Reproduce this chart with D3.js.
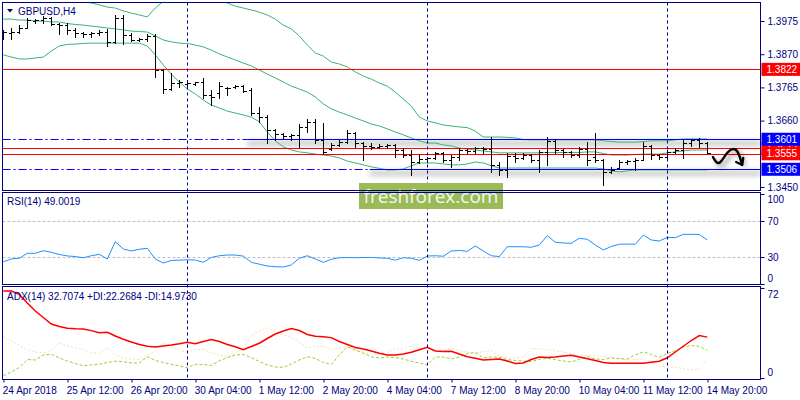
<!DOCTYPE html>
<html>
<head>
<meta charset="utf-8">
<script src="https://cdn.jsdelivr.net/npm/d3@7"></script>
<style>
  body { margin: 0; background: #fff; }
  svg { display: block; font-family: "Liberation Sans", Arial, sans-serif; }
</style>
</head>
<body>
<div id="chart"></div>
<script>
// GBPUSD H4 bars, 24 Apr 2018 04:00 .. 14 May 2018 20:00
const xLabels = ["24 Apr 2018", "25 Apr 12:00", "26 Apr 20:00", "30 Apr 04:00", "1 May 12:00", "2 May 20:00",
  "4 May 04:00", "7 May 12:00", "8 May 20:00", "10 May 04:00", "11 May 12:00", "14 May 20:00"];
const xLabelBars = [0, 8, 16, 24, 32, 40, 48, 56, 64, 72, 80, 88];
const separatorBars = [23, 53, 83];

const open = [1.3937,1.3937,1.3940,1.3953,1.3975,1.3978,1.3984,1.3966,1.3962,1.3947,
  1.3937,1.3934,1.3937,1.3940,1.3909,1.3984,1.3931,1.3915,1.3918,1.3928,
  1.3820,1.3760,1.3779,1.3776,1.3776,1.3782,1.3741,1.3747,1.3763,1.3766,
  1.3769,1.3757,1.3684,1.3671,1.3630,1.3618,1.3611,1.3615,1.3640,1.3656,
  1.3599,1.3570,1.3583,1.3592,1.3621,1.3589,1.3580,1.3577,1.3580,1.3583,
  1.3567,1.3551,1.3529,1.3539,1.3542,1.3558,1.3536,1.3545,1.3567,1.3564,
  1.3573,1.3570,1.3520,1.3504,1.3548,1.3542,1.3551,1.3536,1.3561,1.3596,
  1.3567,1.3561,1.3551,1.3570,1.3545,1.3536,1.3498,1.3510,1.3529,1.3533,
  1.3536,1.3580,1.3551,1.3545,1.3561,1.3567,1.3589,1.3599,1.3589];
const high = [1.3947,1.3953,1.3962,1.3984,1.3981,1.3991,1.3988,1.3969,1.3969,1.3953,
  1.3940,1.3940,1.3947,1.3950,1.3994,1.3994,1.3937,1.3921,1.3934,1.3934,
  1.3823,1.3811,1.3788,1.3788,1.3782,1.3795,1.3757,1.3782,1.3766,1.3773,
  1.3773,1.3763,1.3703,1.3678,1.3634,1.3621,1.3618,1.3649,1.3665,1.3665,
  1.3653,1.3589,1.3599,1.3630,1.3624,1.3592,1.3589,1.3586,1.3586,1.3586,
  1.3573,1.3567,1.3551,1.3545,1.3561,1.3561,1.3551,1.3573,1.3570,1.3577,
  1.3577,1.3608,1.3529,1.3558,1.3558,1.3558,1.3554,1.3567,1.3608,1.3602,
  1.3570,1.3564,1.3577,1.3592,1.3621,1.3539,1.3514,1.3536,1.3536,1.3542,
  1.3592,1.3583,1.3554,1.3567,1.3573,1.3599,1.3602,1.3605,1.3592];
const low = [1.3918,1.3918,1.3937,1.3953,1.3969,1.3969,1.3962,1.3934,1.3934,1.3924,
  1.3924,1.3924,1.3931,1.3896,1.3905,1.3902,1.3912,1.3912,1.3912,1.3798,
  1.3747,1.3757,1.3766,1.3766,1.3773,1.3732,1.3709,1.3732,1.3741,1.3763,
  1.3750,1.3678,1.3656,1.3589,1.3599,1.3602,1.3599,1.3577,1.3624,1.3589,
  1.3554,1.3567,1.3580,1.3589,1.3577,1.3536,1.3570,1.3573,1.3573,1.3545,
  1.3545,1.3488,1.3526,1.3529,1.3539,1.3529,1.3514,1.3536,1.3558,1.3558,
  1.3558,1.3498,1.3488,1.3482,1.3529,1.3539,1.3529,1.3498,1.3520,1.3558,
  1.3545,1.3545,1.3545,1.3520,1.3529,1.3456,1.3495,1.3510,1.3523,1.3504,
  1.3536,1.3539,1.3539,1.3542,1.3558,1.3542,1.3580,1.3577,1.3558];
const close = [1.3940,1.3940,1.3953,1.3978,1.3978,1.3984,1.3966,1.3962,1.3947,1.3937,
  1.3934,1.3937,1.3940,1.3909,1.3984,1.3931,1.3915,1.3918,1.3928,1.3820,
  1.3760,1.3779,1.3782,1.3779,1.3782,1.3741,1.3735,1.3769,1.3763,1.3769,
  1.3754,1.3684,1.3671,1.3630,1.3618,1.3611,1.3615,1.3640,1.3656,1.3599,
  1.3561,1.3583,1.3592,1.3621,1.3589,1.3580,1.3577,1.3580,1.3583,1.3567,
  1.3551,1.3529,1.3539,1.3542,1.3558,1.3536,1.3545,1.3567,1.3564,1.3573,
  1.3570,1.3520,1.3504,1.3548,1.3542,1.3551,1.3536,1.3561,1.3596,1.3567,
  1.3561,1.3551,1.3570,1.3536,1.3536,1.3498,1.3504,1.3529,1.3533,1.3536,
  1.3580,1.3551,1.3545,1.3561,1.3567,1.3589,1.3599,1.3589,1.3558];

// Bollinger bands
const bbUpper = [1.4083,1.4086,1.4089,1.4092,1.4092,1.4089,1.4073,1.4060,1.4051,1.4041,
  1.4035,1.4032,1.4026,1.4019,1.4016,1.4007,1.4000,1.3994,1.3988,1.4016,
  1.4038,1.4051,1.4057,1.4057,1.4051,1.4045,1.4041,1.4038,1.4032,1.4022,
  1.4016,1.4010,1.4003,1.3994,1.3981,1.3962,1.3950,1.3928,1.3899,1.3874,
  1.3864,1.3845,1.3839,1.3830,1.3814,1.3801,1.3791,1.3779,1.3769,1.3750,
  1.3728,1.3706,1.3671,1.3659,1.3653,1.3646,1.3643,1.3640,1.3638,1.3627,
  1.3608,1.3608,1.3608,1.3607,1.3605,1.3600,1.3599,1.3599,1.3599,1.3599,
  1.3599,1.3599,1.3599,1.3599,1.3599,1.3596,1.3594,1.3592,1.3592,1.3592,
  1.3594,1.3596,1.3596,1.3596,1.3599,1.3602,1.3602,1.3602,1.3602];
const bbMiddle = [1.3981,1.3981,1.3978,1.3978,1.3975,1.3975,1.3972,1.3972,1.3967,1.3964,
  1.3962,1.3959,1.3956,1.3953,1.3950,1.3947,1.3943,1.3942,1.3940,1.3928,
  1.3915,1.3909,1.3905,1.3904,1.3899,1.3893,1.3883,1.3871,1.3861,1.3852,
  1.3842,1.3833,1.3820,1.3807,1.3795,1.3782,1.3769,1.3760,1.3750,1.3735,
  1.3713,1.3697,1.3687,1.3678,1.3668,1.3659,1.3649,1.3643,1.3634,1.3624,
  1.3615,1.3605,1.3596,1.3589,1.3589,1.3583,1.3580,1.3573,1.3570,1.3567,
  1.3564,1.3561,1.3558,1.3558,1.3558,1.3558,1.3558,1.3558,1.3559,1.3559,
  1.3559,1.3559,1.3559,1.3561,1.3561,1.3556,1.3551,1.3551,1.3551,1.3553,
  1.3554,1.3554,1.3554,1.3558,1.3561,1.3564,1.3567,1.3567,1.3567];
const bbLower = [1.3868,1.3861,1.3855,1.3855,1.3858,1.3861,1.3880,1.3896,1.3901,1.3902,
  1.3904,1.3905,1.3905,1.3905,1.3905,1.3905,1.3905,1.3905,1.3896,1.3868,
  1.3836,1.3807,1.3782,1.3760,1.3744,1.3725,1.3709,1.3700,1.3690,1.3684,
  1.3678,1.3671,1.3656,1.3624,1.3596,1.3577,1.3567,1.3561,1.3558,1.3554,
  1.3551,1.3548,1.3542,1.3532,1.3526,1.3520,1.3514,1.3509,1.3504,1.3504,
  1.3507,1.3517,1.3526,1.3526,1.3526,1.3523,1.3520,1.3520,1.3523,1.3529,
  1.3526,1.3517,1.3510,1.3510,1.3510,1.3510,1.3510,1.3510,1.3510,1.3510,
  1.3510,1.3510,1.3510,1.3510,1.3510,1.3507,1.3501,1.3498,1.3501,1.3504,
  1.3504,1.3504,1.3504,1.3504,1.3504,1.3504,1.3504,1.3504,1.3504];

const rsi = [24.8,27.8,28.6,34.1,34.1,37.0,35.2,32.8,31.2,30.5,
  29.2,31.4,33.0,27.8,47.0,38.9,36.7,38.6,39.7,27.8,
  23.3,26.2,26.5,26.9,26.7,24.1,29.5,31.4,32.2,32.2,
  31.0,24.1,22.0,20.0,19.2,18.9,21.1,28.6,31.4,27.8,
  24.1,27.5,29.2,29.4,29.2,29.4,29.5,28.9,28.6,26.5,
  29.2,28.6,26.3,31.1,31.4,30.8,36.7,37.3,36.3,42.2,
  36.7,31.4,30.5,41.4,41.4,41.4,40.8,43.3,53.7,46.3,
  45.6,45.2,50.8,49.7,43.3,37.8,41.7,44.2,44.4,44.1,
  54.4,48.9,47.8,51.9,51.5,55.2,55.2,55.0,49.0];

const adx = [69.6,69.6,66.8,60.0,53.6,48.4,43.2,41.2,39.8,39.4,
  39.2,37.9,36.3,36.6,33.6,31.0,28.8,26.8,25.4,24.9,
  25.6,26.4,27.4,28.6,27.4,29.2,30.8,29.2,26.8,25.0,
  22.6,25.2,27.8,31.6,35.2,37.6,39.6,38.0,34.8,33.4,
  33.0,32.3,29.2,26.8,24.4,23.2,21.6,19.8,18.4,18.4,
  19.2,20.6,22.6,24.6,21.6,21.2,21.4,19.2,17.0,15.8,
  14.4,14.8,15.2,13.6,11.6,12.0,14.8,16.8,16.4,16.8,
  17.6,18.2,16.8,15.4,14.0,12.4,11.8,11.8,11.8,11.8,
  11.8,12.6,13.4,16.2,20.8,25.4,30.0,34.0,32.7];
const plusDI = [1.8,4.8,8.4,14.8,14.4,18.4,19.0,16.0,13.6,11.6,
  9.8,10.4,11.0,12.4,13.4,13.0,12.0,12.0,17.0,14.0,
  12.4,11.0,9.6,8.2,10.9,10.8,10.0,13.8,16.2,18.4,
  18.8,16.4,13.2,10.4,8.8,8.6,11.2,14.4,17.0,15.6,
  12.4,10.8,18.4,25.0,22.4,19.8,17.0,16.0,16.8,16.4,
  15.2,13.4,12.0,10.4,16.8,16.8,15.2,16.8,19.6,20.4,
  16.2,16.8,16.6,14.8,14.0,13.6,13.1,14.9,15.8,14.7,
  13.6,12.8,14.9,17.0,15.2,14.8,16.0,15.6,15.2,18.4,
  21.0,18.8,16.5,19.6,21.8,24.8,26.0,25.4,22.3];
const minusDI = [33.0,29.8,26.4,22.4,20.8,20.0,22.0,28.4,25.6,24.4,
  22.8,20.4,19.6,24.2,19.2,16.0,15.2,14.8,17.6,22.0,
  27.8,24.8,22.0,21.0,22.8,22.8,20.4,18.4,17.2,20.0,
  24.0,33.6,37.6,40.2,37.6,34.8,32.4,28.8,23.8,25.6,
  25.6,22.4,24.4,25.2,22.4,20.8,19.2,19.6,20.8,23.2,
  23.2,25.6,24.4,22.4,21.6,22.0,23.6,22.0,20.6,20.0,
  21.0,22.0,17.2,16.4,15.6,17.2,23.6,23.6,22.4,21.8,
  20.8,19.2,18.0,17.8,17.8,17.2,16.4,15.2,14.4,14.8,
  15.2,12.4,9.2,8.8,8.4,7.4,6.4,7.2,15.0];

const priceTicks = [1.3975, 1.3870, 1.3765, 1.3660, 1.3555, 1.3450];
const rsiTicks = [0, 30, 70, 100];
const rsiLevels = [30, 70];
const adxTicks = [0, 72];

// horizontal levels drawn on the chart (solidFrom = bar where the line turns solid)
const levels = [
  { price: 1.3822, color: "#ff0000", solidFrom: 0 },
  { price: 1.3572, color: "#ff0000", solidFrom: 0 },
  { price: 1.3555, color: "#ff0000", solidFrom: 0 },
  { price: 1.3601, color: "#0000ff", solidFrom: 30.5 },
  { price: 1.3506, color: "#0000ff", solidFrom: 45.8 }
];
// hand-drawn forecast arrow (bar position, price)
const arrowPts = [[88.7, 1.3545], [89.3, 1.3520], [89.8, 1.3532], [90.5, 1.3561],
  [91.2, 1.3573], [91.8, 1.3567], [92.3, 1.3526]];

const width = 800, height = 400;
const left = 2.5, right = 760.5;
const main = { top: 2.5, bottom: 190.5 };
const rsiP = { top: 192.5, bottom: 284.5 };
const adxP = { top: 286.5, bottom: 379.5 };
const navy = "#000080";

const svg = d3.select("#chart").append("svg")
  .attr("width", width).attr("height", height);

const defs = svg.append("defs");
defs.append("filter").attr("id", "blur").attr("x", "-20%").attr("y", "-200%")
  .attr("width", "140%").attr("height", "500%")
  .append("feGaussianBlur").attr("stdDeviation", 2.5);
[["clipMain", main], ["clipRsi", rsiP], ["clipAdx", adxP]].forEach(([id, p]) => {
  defs.append("clipPath").attr("id", id).append("rect")
    .attr("x", left).attr("y", p.top).attr("width", right - left).attr("height", p.bottom - p.top);
});

const x = d3.scaleLinear().domain([0, 88]).range([3.3, 707.3]);
const y = d3.scaleLinear().domain([1.3450, 1.3975]).range([187, 21]);
const yRsi = d3.scaleLinear().domain([30, 70]).range([257, 221]);
const yAdx = d3.scaleLinear().domain([0, 72]).range([378, 288]);
const cx = i => Math.round(x(i)) + 0.5;
const cy = v => Math.round(y(v)) + 0.5;

// ---------- main panel ----------
const gMain = svg.append("g").attr("clip-path", "url(#clipMain)");

// shadows under the drawn levels
levels.filter(d => d.solidFrom > 0).forEach(d => {
  gMain.append("rect")
    .attr("x", x(d.solidFrom)).attr("y", y(d.price) + 1)
    .attr("width", right - x(d.solidFrom)).attr("height", 6)
    .attr("fill", "#000").attr("opacity", 0.18).attr("filter", "url(#blur)");
});

// Bollinger bands
[bbUpper, bbMiddle, bbLower].forEach(s => {
  gMain.append("path").datum(s)
    .attr("fill", "none").attr("stroke", "#3cb371").attr("stroke-width", 1)
    .attr("d", d3.line().x((d, i) => x(i)).y(d => y(d)));
});

// level lines
levels.forEach(d => {
  const yy = cy(d.price);
  if (d.solidFrom > 0) {
    gMain.append("line").attr("x1", left).attr("x2", x(d.solidFrom))
      .attr("y1", yy).attr("y2", yy).attr("stroke", d.color)
      .attr("stroke-dasharray", "8,3,2,3");
  }
  gMain.append("line").attr("x1", d.solidFrom > 0 ? x(d.solidFrom) : left).attr("x2", right)
    .attr("y1", yy).attr("y2", yy).attr("stroke", d.color).attr("stroke-width", 1.2);
});

// OHLC bars
const bars = open.map((o, i) => ({ i, o, h: high[i], l: low[i], c: close[i] }));
gMain.append("g").selectAll("path").data(bars).join("path")
  .attr("fill", "none").attr("stroke", "#000").attr("stroke-width", 1)
  .attr("shape-rendering", "crispEdges")
  .attr("d", d => {
    const px = cx(d.i);
    return `M${px},${cy(d.h) - 0.5}V${cy(d.l) + 0.5}` +
      `M${px - 3},${cy(d.o)}H${px}M${px},${cy(d.c)}H${px + 3.5}`;
  });

// forecast arrow with shadow
const arrowLine = d3.line().x(d => x(d[0])).y(d => y(d[1])).curve(d3.curveBasis);
svg.append("path").datum(arrowPts).attr("d", arrowLine)
  .attr("transform", "translate(3,3)")
  .attr("fill", "none").attr("stroke", "#000").attr("stroke-width", 4)
  .attr("opacity", 0.3).attr("filter", "url(#blur)");
svg.append("path").datum(arrowPts).attr("d", arrowLine)
  .attr("fill", "none").attr("stroke", "#000").attr("stroke-width", 2.4)
  .attr("stroke-linecap", "round");
const tip = arrowPts[arrowPts.length - 1];
const tx = x(tip[0]) + 0.5, ty = y(tip[1]) + 2;
svg.append("path")
  .attr("d", `M${tx - 6},${ty - 3}L${tx},${ty}L${tx + 1},${ty - 7}`)
  .attr("fill", "none").attr("stroke", "#000").attr("stroke-width", 2.4)
  .attr("stroke-linecap", "round").attr("stroke-linejoin", "round");

// ---------- RSI panel ----------
const gRsi = svg.append("g").attr("clip-path", "url(#clipRsi)");
gRsi.selectAll("line.lvl").data(rsiLevels).join("line")
  .attr("x1", left).attr("x2", right)
  .attr("y1", d => Math.round(yRsi(d)) + 0.5).attr("y2", d => Math.round(yRsi(d)) + 0.5)
  .attr("stroke", "#c0c0c0").attr("stroke-dasharray", "3,2");
gRsi.append("path").datum(rsi)
  .attr("fill", "none").attr("stroke", "#1e90ff").attr("stroke-width", 1)
  .attr("d", d3.line().x((d, i) => x(i)).y(d => yRsi(d)));

// ---------- ADX panel ----------
const gAdx = svg.append("g").attr("clip-path", "url(#clipAdx)");
const adxLine = d3.line().x((d, i) => x(i)).y(d => yAdx(d));
gAdx.append("path").datum(minusDI).attr("d", adxLine)
  .attr("fill", "none").attr("stroke", "#f5deb3").attr("stroke-width", 1)
  .attr("stroke-dasharray", "2,2");
gAdx.append("path").datum(plusDI).attr("d", adxLine)
  .attr("fill", "none").attr("stroke", "#9acd32").attr("stroke-width", 1)
  .attr("stroke-dasharray", "3,2");
gAdx.append("path").datum(adx).attr("d", adxLine)
  .attr("fill", "none").attr("stroke", "#ff0000").attr("stroke-width", 1.5);

// ---------- period separators ----------
svg.append("g").selectAll("line").data(separatorBars).join("line")
  .attr("x1", d => cx(d)).attr("x2", d => cx(d))
  .attr("y1", main.top).attr("y2", adxP.bottom)
  .attr("stroke", navy).attr("stroke-dasharray", "3,3");

// ---------- watermark ----------
svg.append("rect").attr("x", 359).attr("y", 183).attr("width", 144).attr("height", 26)
  .attr("fill", "#9bbb59");
svg.append("text").attr("x", 431).attr("y", 203).attr("text-anchor", "middle")
  .attr("font-family", "'Open Sans', sans-serif").attr("font-size", 19)
  .attr("fill", "#fff").attr("fill-opacity", 0.92).text("freshforex.com");

// ---------- panel frames ----------
[main, rsiP, adxP].forEach(p => {
  svg.append("rect").attr("x", left).attr("y", p.top)
    .attr("width", right - left).attr("height", p.bottom - p.top)
    .attr("fill", "none").attr("stroke", navy).attr("stroke-width", 1);
});

// ---------- axes ----------
function styleAxis(g) {
  g.select(".domain").remove();
  g.selectAll("line").attr("stroke", navy);
  g.selectAll("text").attr("fill", navy).attr("font-size", 10)
    .attr("font-family", "'Liberation Sans', Arial, sans-serif");
}
svg.append("g").attr("transform", `translate(${right},0)`)
  .call(d3.axisRight(y).tickValues(priceTicks).tickSize(4).tickPadding(3).tickFormat(d3.format(".4f")))
  .call(styleAxis);
svg.append("g").attr("transform", `translate(${right},0)`)
  .call(d3.axisRight(yRsi).tickValues(rsiTicks).tickSize(4).tickPadding(3))
  .call(styleAxis)
  .call(g => g.selectAll("text").attr("dy", d => d === 100 ? "0.85em" : d === 0 ? "-0.3em" : "0.32em"));
svg.append("g").attr("transform", `translate(${right},0)`)
  .call(d3.axisRight(yAdx).tickValues(adxTicks).tickSize(4).tickPadding(3))
  .call(styleAxis)
  .call(g => g.selectAll("text").attr("dy", d => d === 72 ? "0.95em" : "-0.3em"));

// level price boxes on the axis (drawn lowest first); the 1.3572 box is mostly covered
defs.append("clipPath").attr("id", "clipHidden").append("rect")
  .attr("x", right).attr("y", y(1.3601) + 6.5).attr("width", width - right)
  .attr("height", Math.max(0, (y(1.3555) - 6.5) - (y(1.3601) + 6.5)));
const boxOrder = [levels[1], levels[2], levels[0], levels[3], levels[4]];
boxOrder.forEach(d => {
  const yy = y(d.price);
  svg.append("rect").attr("x", right + 1).attr("y", yy - 6.5)
    .attr("width", width - right).attr("height", 13).attr("fill", d.color);
  const t = svg.append("text").attr("x", right + 6).attr("y", yy).attr("dy", "0.35em")
    .attr("font-size", 10).attr("fill", "#fff").text(d.price.toFixed(4));
  if (d === levels[1]) t.attr("clip-path", "url(#clipHidden)");
});

// time axis
svg.append("g").attr("transform", `translate(0,${adxP.bottom})`)
  .call(d3.axisBottom(x).tickValues(xLabelBars).tickSize(3).tickPadding(4)
    .tickFormat((d, i) => xLabels[i]))
  .call(styleAxis)
  .call(g => g.selectAll("line").attr("transform", d => `translate(${cx(d) - x(d)},0)`))
  .call(g => g.selectAll("text").attr("text-anchor", "start").attr("x", -1));

// ---------- panel titles ----------
svg.append("path").attr("d", "M7,9L13,9L10,12.5Z").attr("fill", navy);
svg.append("text").attr("x", 18).attr("y", 15).attr("font-size", 10).attr("fill", navy).text("GBPUSD,H4");
svg.append("text").attr("x", 7).attr("y", 205).attr("font-size", 10).attr("fill", navy)
  .text("RSI(14) 49.0019");
svg.append("text").attr("x", 7).attr("y", 300).attr("font-size", 10).attr("fill", navy)
  .text("ADX(14) 32.7074 +DI:22.2684 -DI:14.9730");
</script>
</body>
</html>
